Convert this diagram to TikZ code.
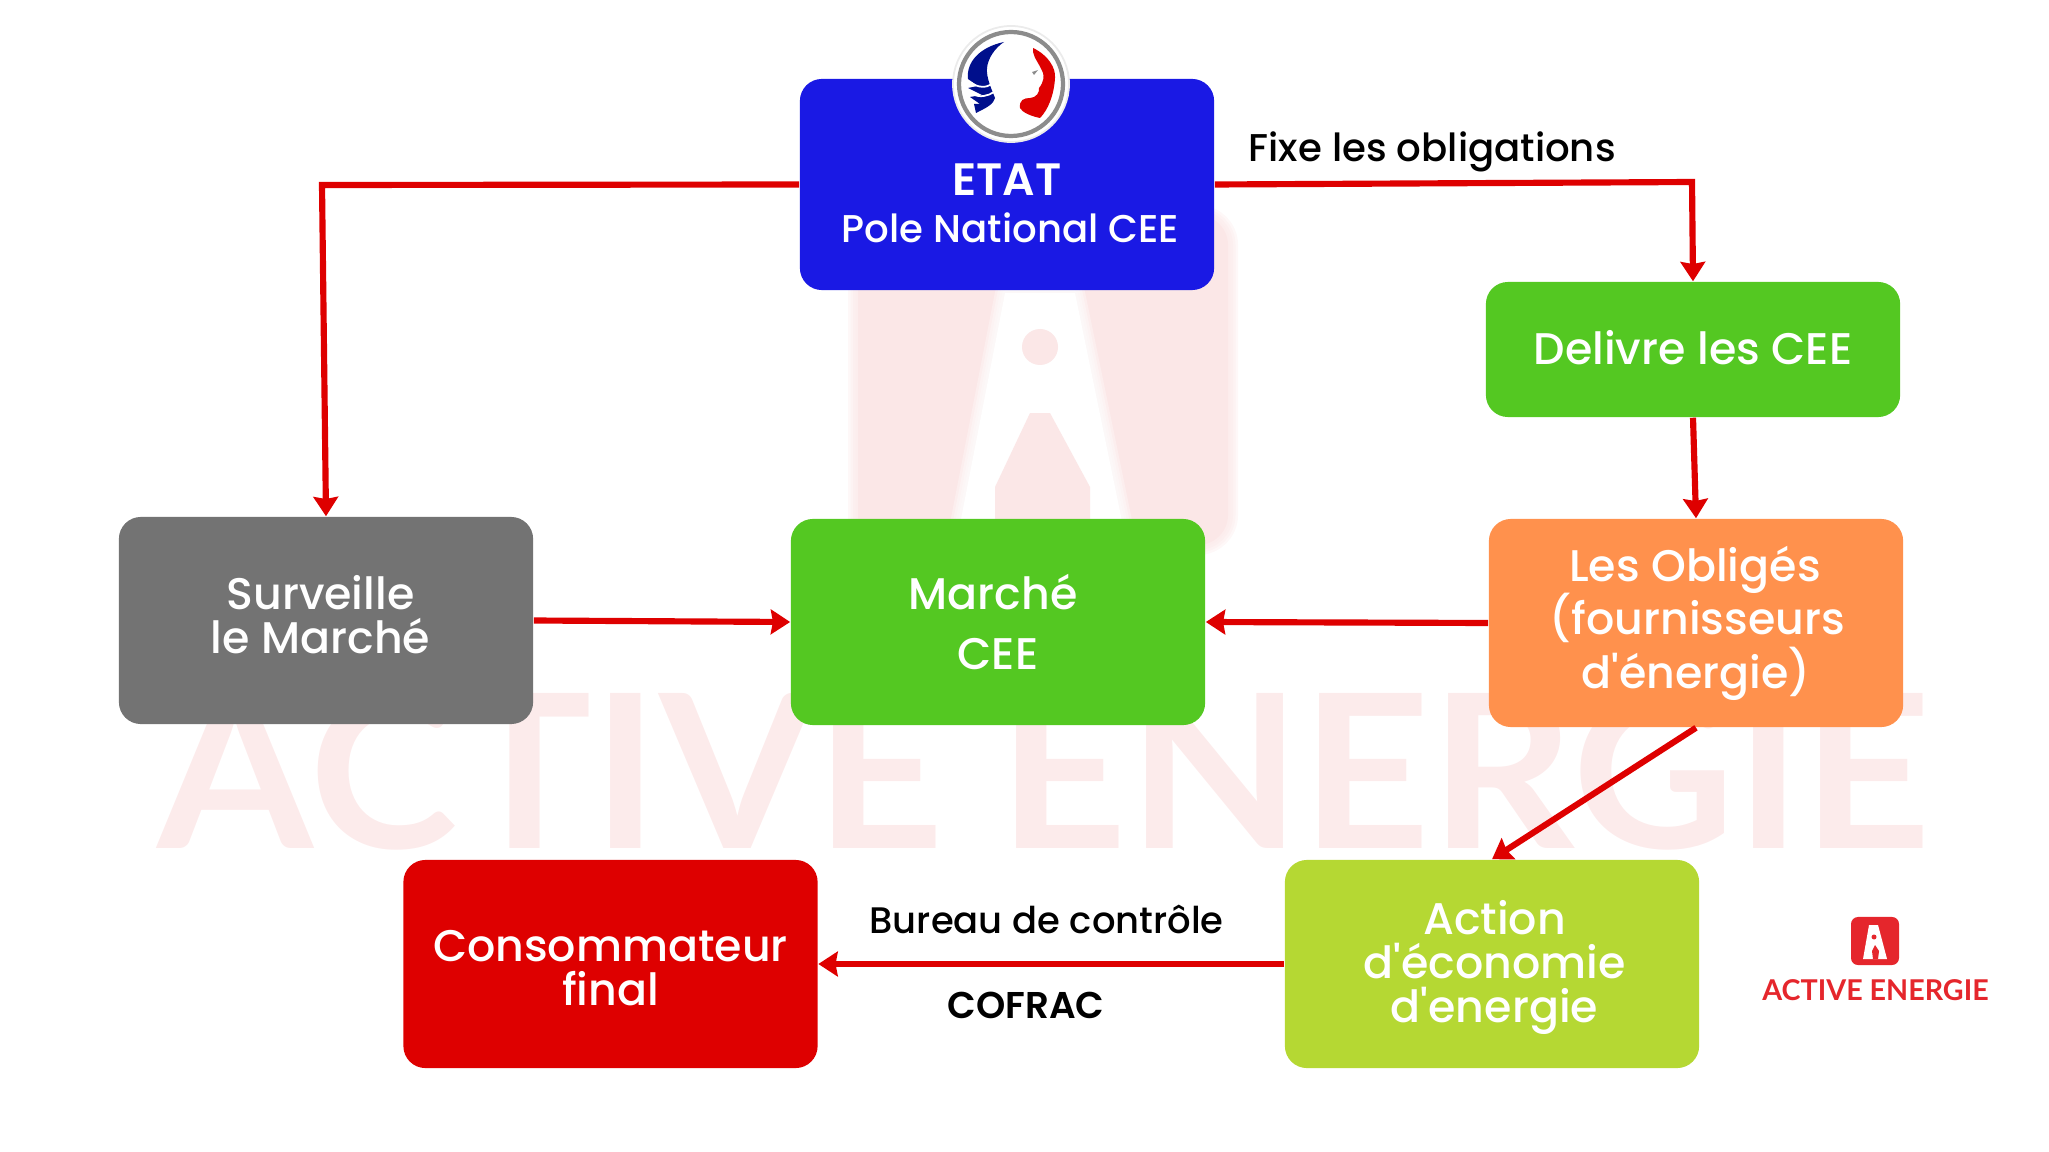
\documentclass[tikz,border=0pt]{standalone}
\usepackage{fontspec}
\defaultfontfeatures[\rmfamily]{}
\setmainfont[BoldFont={Poppins SemiBold}]{Poppins Medium}
\newfontfamily\logofont{Lato}
\usetikzlibrary{arrows.meta,calc}
\usetikzlibrary{positioning}
\definecolor{etatblue}{HTML}{1A19E4}
\definecolor{ceegreen}{HTML}{54C822}
\definecolor{survgrey}{HTML}{737373}
\definecolor{oblorange}{HTML}{FF914D}
\definecolor{consored}{HTML}{DE0000}
\definecolor{actlime}{HTML}{B5D833}
\definecolor{logored}{HTML}{E5262C}
\definecolor{markpink}{HTML}{FBE7E7}
\definecolor{mariblue}{HTML}{000F8C}
\tikzset{
  box/.style={rectangle,rounded corners=0.22cm,minimum width=4.14cm,inner sep=0pt,
    align=center,text=white,font=\fontsize{12.6}{12.6}\selectfont},
  link/.style={draw=consored,line width=1.75pt,-{Stealth[length=5.5pt,width=7pt,inset=0.6pt]}},
  caption/.style={inner sep=0pt,anchor=base west,text=black,font=\fontsize{10.5}{12}\selectfont},
}

\begin{document}
\begin{tikzpicture}[x=0.01cm,y=-0.01cm]
  \useasboundingbox (0,0) rectangle (2049,1152);
  % blurred mark behind the diagram
  \foreach \w in {5,10,15,20}
    \draw[markpink,opacity=0.3,line width=\w*0.2845pt,rounded corners=0.3cm] (858,215) rectangle (1228,545);
  \fill[markpink,rounded corners=0.3cm] (858,215) rectangle (1228,545);
  \foreach \w in {5,10,15,20}
    \draw[white,opacity=0.3,line width=\w*0.2845pt,line join=round] (1005,293) -- (1075,293) -- (1130,560) -- (953,560) -- cycle;
  \fill[white] (1005,293) -- (1075,293) -- (1130,560) -- (953,560) -- cycle;
  \fill[markpink] (1040,347) circle (18);
  \fill[markpink] (1030,413) -- (1050,413) -- (1090,487) -- (1090,560) -- (995,560) -- (995,487) -- cycle;
  \node[inner sep=0pt,anchor=base west,text=markpink!85,xscale=1.047] (wordmark) at (157,848)
    {\logofont\bfseries\fontsize{61}{61}\selectfont ACTIVE ENERGIE};

  \node[box,minimum height=2.11cm,fill=etatblue] (etat) at (1007,184.5)
    {\\[0.25cm]{\fontsize{12.9}{13}\selectfont\bfseries ETAT\hspace*{0.02cm}}\\[1pt]{\fontsize{11}{13}\selectfont\hspace*{0.07cm}Pole National CEE}};
  \node[box,minimum height=1.35cm,fill=ceegreen] (delivre) at (1693,349.5)
    {Delivre les CEE\rule[-0.05cm]{0pt}{0pt}};
  \node[box,minimum height=2.08cm,fill=oblorange,font=\fontsize{12.6}{15.2}\selectfont] (obliges) at (1696,623)
    {Les Obligés\hspace*{0.02cm}\\\hspace*{0.03cm}(fournisseurs\\d'énergie)};
  \node[box,minimum height=2.06cm,fill=ceegreen,font=\fontsize{12.6}{16.8}\selectfont] (marche) at (998,622)
    {Marché\hspace*{0.1cm}\\CEE};
  \node[box,minimum height=2.07cm,fill=survgrey] (surveille) at (326,620.5)
    {Surveille\hspace*{0.11cm}\\le Marché\hspace*{0.11cm}\rule[-0.12cm]{0pt}{0pt}};
  \node[box,minimum height=2.08cm,fill=consored] (conso) at (610.5,964)
    {\rule{0pt}{11.2pt}Consommateur\\final};
  \node[box,minimum height=2.08cm,fill=actlime] (action) at (1492,964)
    {\hspace*{0.05cm}\rule{0pt}{11.6pt}Action\\\hspace*{0.05cm}d'économie\\\hspace*{0.05cm}d'energie};

  \coordinate (cornerdel) at (1692,182);
  \coordinate (cornersurv) at (322,185);
  \draw[link] (etat.east) -- (cornerdel) -- (delivre.north);
  \draw[link] (etat.west) -- (cornersurv) -- (surveille.north);
  \draw[link] (delivre.south) -- (obliges.north);
  \draw[link] (obliges.west) -- (marche.east);
  \draw[link] (surveille.east) -- (marche.west);
  \draw[link] (obliges.south) -- (action.north);
  \draw[link] (action.west) -- (conso.east);

  \node[caption,font=\fontsize{11}{12}\selectfont] (fixe) at (1248,162) {Fixe les obligations};
  \node[caption] (bureau) at (869,933) {Bureau de contrôle};
  \node[caption,font=\fontsize{10.6}{12}\selectfont\bfseries] (cofrac) at (947,1018) {COFRAC};

  % Marianne badge
  \node[circle,fill=white,draw=black!8,line width=0.5pt,minimum size=1.16cm,inner sep=0pt] (badge) at (1011,84) {};
  \draw[black!45,line width=1.2pt] (badge.center) circle (52);
  \fill[mariblue] (1004,42) .. controls (980,47) and (966,62) .. (968,79)
    -- (978,86) -- (968,88) -- (982,95) -- (970,97) -- (980,104) -- (974,104) -- (976,113)
    .. controls (986,108) and (994,104) .. (995,98)
    .. controls (992,90) and (986,78) .. (987,68)
    .. controls (988,58) and (995,48) .. (1004,42) -- cycle;
  \draw[white,line width=0.5pt] (970,82) .. controls (978,88) and (986,88) .. (992,84);
  \draw[white,line width=0.5pt] (972,94) .. controls (980,98) and (988,96) .. (994,92);
  \fill[consored] (1033,48) .. controls (1048,55) and (1056,68) .. (1055,78)
    .. controls (1054,95) and (1048,110) .. (1040,118)
    .. controls (1030,116) and (1022,112) .. (1020,108)
    .. controls (1019,100) and (1024,98) .. (1030,98)
    .. controls (1036,98) and (1040,92) .. (1039,88)
    .. controls (1044,82) and (1044,76) .. (1043,73)
    .. controls (1040,65) and (1034,58) .. (1033,52) -- cycle;
  \fill[black!45] (1032,72) -- (1038,70) -- (1034,75) -- cycle;

  % company logo
  \node[rectangle,rounded corners=0.07cm,fill=logored,minimum size=0.48cm,inner sep=0pt] (logobox) at (1875,941) {};
  \fill[white] (1869,925) -- (1878,925) -- (1887,959) -- (1863,959) -- cycle;
  \fill[logored] (1875,945) -- (1879,951) -- (1878,959) -- (1873,959) -- (1872,951) -- cycle;
  \fill[logored] (1874,937) circle (2.5);
  \node[inner sep=0pt,anchor=base,text=logored,font=\logofont\bfseries\fontsize{8.15}{10}\selectfont] (logoname) at (1875.5,1000) {ACTIVE ENERGIE};
\end{tikzpicture}
\end{document}
